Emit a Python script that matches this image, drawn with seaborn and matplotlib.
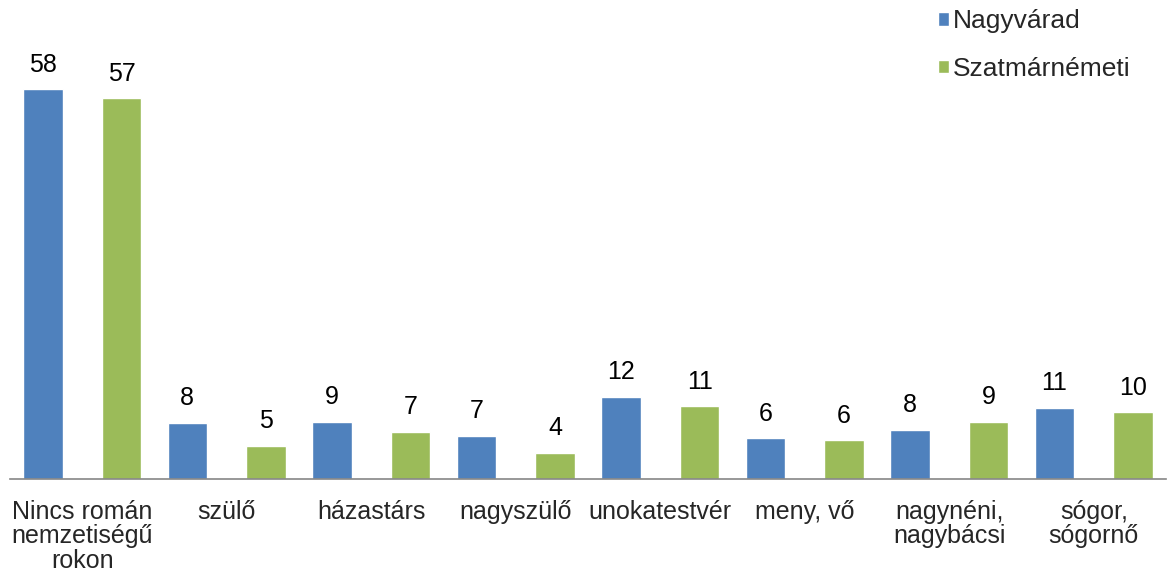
import pandas as pd
import seaborn as sns
import matplotlib.pyplot as plt

categories = ["Nincs román\nnemzetiségű\nrokon", "szülő", "házastárs", "nagyszülő",
              "unokatestvér", "meny, vő", "nagynéni,\nnagybácsi", "sógor,\nsógornő"]
series = ["Nagyvárad", "Szatmárnémeti"]
nagyvarad = [58.0, 8.3, 8.5, 6.4, 12.2, 6.0, 7.3, 10.6]
szatmar = [56.7, 4.9, 7.0, 3.9, 10.8, 5.7, 8.5, 9.9]
nagyvarad_labels = ["58", "8", "9", "7", "12", "6", "8", "11"]
szatmar_labels = ["57", "5", "7", "4", "11", "6", "9", "10"]
colors = ["#4F81BD", "#9BBB59"]

sns.set_style("white")
plt.rcParams['font.family'] = ['Liberation Sans', 'DejaVu Sans']

df = pd.DataFrame({
	"kategoria": categories * 2,
	"varos": [series[0]] * len(categories) + [series[1]] * len(categories),
	"ertek": nagyvarad + szatmar,
})

fig = plt.figure(figsize=(11.67, 5.76), dpi=100)
ax = fig.add_axes([10 / 1167, 1 - 478.7 / 576, 1156 / 1167, (478.7 - 76) / 576])

sns.barplot(data=df, x="kategoria", y="ertek", hue="varos", order=categories,
			hue_order=series, palette=colors, width=1.09, gap=0.5,
			saturation=1, errorbar=None, ax=ax)

for cont, labs in zip(ax.containers, [nagyvarad_labels, szatmar_labels]):
	ax.bar_label(cont, labels=labs, padding=9, fontsize=18, color="black")

ax.set_ylim(0, 60)
ax.set_xlim(-0.5, len(categories) - 0.5)
ax.set_xlabel("")
ax.set_ylabel("")
ax.set_yticks([])
for s in ["left", "top", "right"]:
	ax.spines[s].set_visible(False)
ax.spines["bottom"].set_color("#868686")
ax.spines["bottom"].set_linewidth(1.2)

ax.set_xticks(range(len(categories)))
ax.set_xticklabels(categories, fontsize=18, linespacing=1.05)
ax.tick_params(axis="x", which="major", length=0, pad=15)
ax.set_xticks([i - 0.5 for i in range(len(categories) + 1)], minor=True)
ax.tick_params(axis="x", which="minor", length=6, width=1.2, color="#868686", direction="out")

handles, labels = ax.get_legend_handles_labels()
ax.legend(handles, labels, loc="upper left", bbox_to_anchor=(933 / 1167, 1 - 4 / 576),
		  bbox_transform=fig.transFigure, frameon=False, fontsize=19,
		  borderpad=0.2, borderaxespad=0,
		  handlelength=0.42, handleheight=0.42, handletextpad=0.15, labelspacing=0.9)

fig.savefig("out.png", dpi=100)
